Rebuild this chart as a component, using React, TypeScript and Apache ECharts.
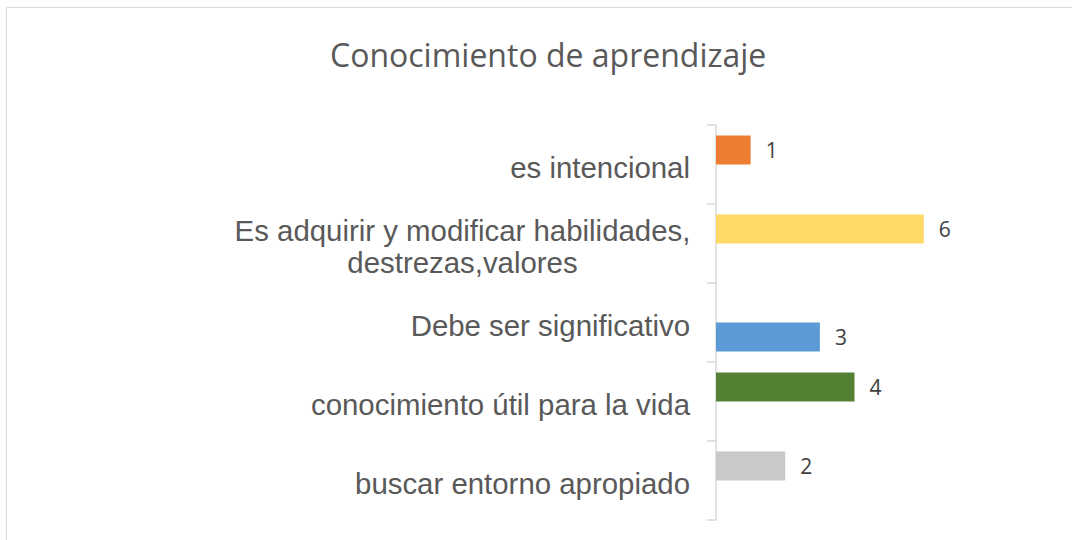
import React, { useEffect, useRef } from "react";
import * as echarts from "echarts";

const categories = [
  "es intencional",
  "Es adquirir y modificar habilidades, destrezas,valores",
  "Debe ser significativo",
  "conocimiento útil para la vida",
  "buscar entorno apropiado",
];
const values = [1, 6, 3, 4, 2];
const colors = ["#ED7D31", "#FFD966", "#5B9BD5", "#548235", "#C9C9C9"];
// the third bar sits in the lower slot of its band in the reference
const lowerSlot = [false, false, true, false, false];

export default function App() {
  const ref = useRef<HTMLDivElement>(null);
  useEffect(() => {
    document.body.style.margin = "0";
    if (!ref.current) return;
    const chart = echarts.init(ref.current, undefined, { renderer: "svg" });
    const mk = (lower: boolean) =>
      values.map((v, i) =>
        lowerSlot[i] === lower
          ? { value: v, itemStyle: { color: colors[i] } }
          : "-"
      );
    const labelCfg = {
      show: true,
      position: "right",
      distance: 15,
      fontFamily: "Open Sans",
      fontSize: 21,
      color: "#404040",
    };
    chart.setOption({
      animation: false,
      title: {
        text: "Conocimiento de aprendizaje",
        left: 325,
        top: 33,
        padding: 5,
        textStyle: {
          fontFamily: "Open Sans",
          fontSize: 32,
          fontWeight: "normal",
          color: "#595959",
        },
      },
      graphic: [
        {
          type: "rect",
          shape: { x: 6.5, y: 7.5, width: 2000, height: 2000 },
          style: { fill: "none", stroke: "#D9D9D9", lineWidth: 1 },
          silent: true,
        },
      ],
      grid: { left: 716, top: 125, bottom: 20, width: 277 },
      xAxis: {
        type: "value",
        min: 0,
        max: 8,
        show: false,
      },
      yAxis: {
        type: "category",
        inverse: true,
        data: categories,
        axisLine: { show: true, lineStyle: { color: "#D9D9D9", width: 1.5 } },
        axisTick: { show: true, length: 9, lineStyle: { color: "#D9D9D9", width: 1.5 } },
        axisLabel: {
          margin: 26,
          fontFamily: "Liberation Sans",
          fontSize: 29.4,
          color: "#595959",
          padding: [5, 0, 0, 0],
          formatter: (v: string) =>
            v.startsWith("Es adquirir")
              ? "{c|Es adquirir y modificar habilidades,}\n{c|destrezas,valores}"
              : v,
          rich: {
            c: {
              width: 455,
              align: "center",
              fontFamily: "Liberation Sans",
              fontSize: 29.4,
              color: "#595959",
              lineHeight: 32,
            },
          },
        },
      },
      series: [
        {
          type: "bar",
          data: mk(false),
          barWidth: 29,
          barGap: "0%",
          label: labelCfg,
        },
        {
          type: "bar",
          data: mk(true),
          barWidth: 29,
          barGap: "0%",
          label: labelCfg,
        },
      ],
    });
    return () => chart.dispose();
  }, []);
  return <div ref={ref} style={{ width: 1072, height: 540 }} />;
}
